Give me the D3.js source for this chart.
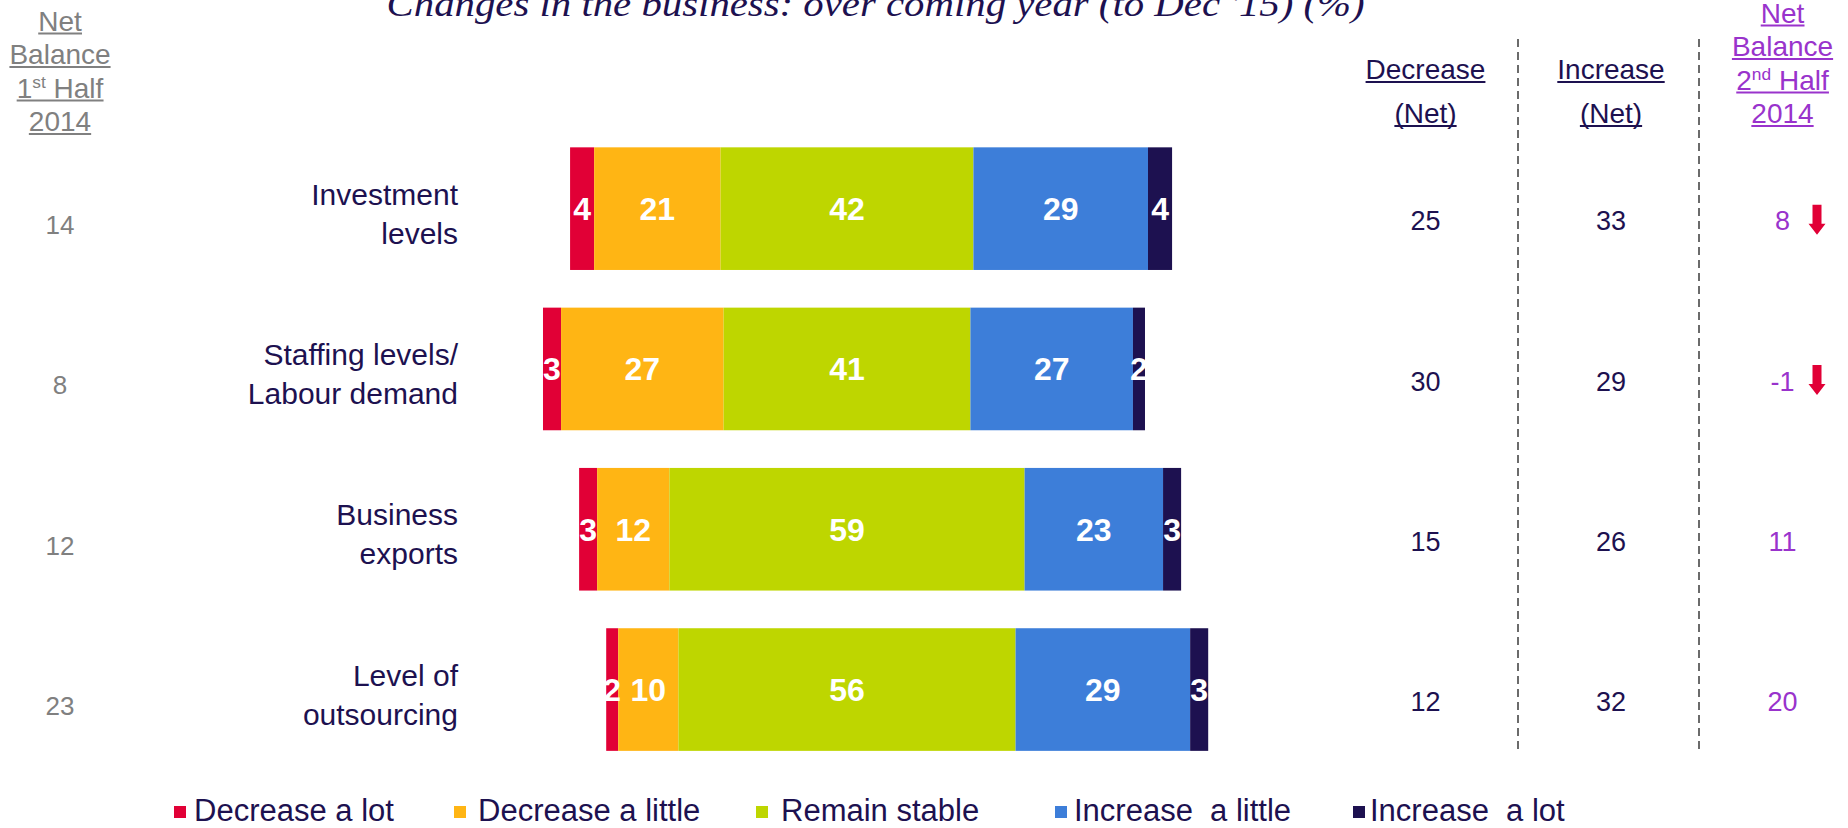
<!DOCTYPE html>
<html>
<head>
<meta charset="utf-8">
<script src="https://cdn.jsdelivr.net/npm/d3@7"></script>
<style>
  html, body { margin: 0; padding: 0; background: #ffffff; }
  svg { display: block; }
  text { font-family: "Liberation Sans", Arial, Helvetica, sans-serif; }
</style>
</head>
<body>
<svg id="chart" width="1848" height="828"></svg>
<script>
// ---- Data ---------------------------------------------------------------
const categoryLines = [
  ["Investment", "levels"],
  ["Staffing levels/", "Labour demand"],
  ["Business", "exports"],
  ["Level of", "outsourcing"]
];
const seriesNames = ["Decrease a lot", "Decrease a little", "Remain stable", "Increase  a little", "Increase  a lot"];
const decreaseLot    = [4, 3, 3, 2];
const decreaseLittle = [21, 27, 12, 10];
const remainStable   = [42, 41, 59, 56];
const increaseLittle = [29, 27, 23, 29];
const increaseLot    = [4, 2, 3, 3];
const netBalanceH1   = [14, 8, 12, 23];
const trendArrows    = ["down", "down", "", ""];

const titleText = "Changes in the business: over coming year (to Dec '15) (%)";
const headerH1 = [["Net"], ["Balance"], ["1", "st", " Half"], ["2014"]];
const headerH2 = [["Net"], ["Balance"], ["2", "nd", " Half"], ["2014"]];
const headerDecrease = ["Decrease", "(Net)"];
const headerIncrease = ["Increase", "(Net)"];

// ---- Derived columns ----------------------------------------------------
const series = [decreaseLot, decreaseLittle, remainStable, increaseLittle, increaseLot];
const netDecrease = decreaseLot.map((d, i) => d + decreaseLittle[i]);
const netIncrease = increaseLot.map((d, i) => d + increaseLittle[i]);
const netBalanceH2 = netIncrease.map((d, i) => d - netDecrease[i]);

// ---- Styling ------------------------------------------------------------
const NAVY = "#1D1150", GREY = "#808080", PURPLE = "#9933CC", ARROW = "#E10036";
const colors = ["#E10036", "#FFB514", "#BED600", "#3D7ED9", "#1D1150"];

const svg = d3.select("#chart");

// ---- Scales -------------------------------------------------------------
const y = d3.scaleBand()
  .domain(d3.range(categoryLines.length))
  .range([128.5, 769.7])
  .paddingInner(0.235)
  .paddingOuter(0.1175);

// Diverging scale: 0 sits in the middle of the "Remain stable" segment
const x = d3.scaleLinear().domain([-60, 60]).range([485.8, 1208.2]);

const colX = { h1: 60, dec: 1425.5, inc: 1611, h2: 1782.5 };

// ---- Helpers ------------------------------------------------------------
function underline(sel, color) {
  const bb = sel.node().getBBox();
  const baseY = +sel.attr("y");
  svg.append("line")
    .attr("x1", bb.x).attr("x2", bb.x + bb.width)
    .attr("y1", baseY + 3).attr("y2", baseY + 3)
    .attr("stroke", color).attr("stroke-width", 1.8);
}

function headerLine(parts, cx, baseY, color, size) {
  const t = svg.append("text")
    .attr("x", cx).attr("y", baseY)
    .attr("text-anchor", "middle")
    .attr("font-size", size)
    .attr("fill", color);
  if (parts.length === 1) {
    t.text(parts[0]);
  } else {
    t.append("tspan").text(parts[0]);
    t.append("tspan").attr("font-size", size * 0.62).attr("dy", -10).text(parts[1]);
    t.append("tspan").attr("dy", 10).style("white-space", "pre").text(parts[2]);
  }
  underline(t, color);
}

// ---- Title --------------------------------------------------------------
svg.append("text")
  .attr("x", 386.6).attr("y", 16)
  .attr("font-style", "italic")
  .attr("font-size", 35)
  .attr("fill", NAVY)
  .attr("textLength", 978)
  .attr("lengthAdjust", "spacingAndGlyphs")
  .style("font-family", "'Liberation Serif', Georgia, serif")
  .text(titleText);

// ---- Column headers -----------------------------------------------------
headerH1.forEach((p, i) => headerLine(p, colX.h1, 30.5 + i * 33.5, GREY, 28));
headerH2.forEach((p, i) => headerLine(p, colX.h2, 22.5 + i * 33.5, PURPLE, 28));
headerDecrease.forEach((p, i) => headerLine([p], colX.dec, 79 + i * 44, NAVY, 28));
headerIncrease.forEach((p, i) => headerLine([p], colX.inc, 79 + i * 44, NAVY, 28));

// ---- Dashed separators --------------------------------------------------
[1518, 1699].forEach(sx => {
  svg.append("line")
    .attr("x1", sx).attr("x2", sx)
    .attr("y1", 39).attr("y2", 752)
    .attr("stroke", "#6b6b6b").attr("stroke-width", 2)
    .attr("stroke-dasharray", "8,5");
});

// ---- Bars ---------------------------------------------------------------
const rows = categoryLines.map((_, i) => {
  const vals = series.map(s => s[i]);
  let start = -(vals[0] + vals[1] + vals[2] / 2);
  return vals.map((v, k) => {
    const seg = { row: i, k, v, x0: start, x1: start + v };
    start += v;
    return seg;
  });
});

const rowG = svg.selectAll("g.row").data(rows).join("g").attr("class", "row");

rowG.selectAll("rect")
  .data(d => d)
  .join("rect")
  .attr("x", d => x(d.x0))
  .attr("width", d => x(d.x1) - x(d.x0))
  .attr("y", d => y(d.row))
  .attr("height", y.bandwidth())
  .attr("fill", d => colors[d.k]);

rowG.selectAll("text.val")
  .data(d => d)
  .join("text")
  .attr("class", "val")
  .attr("x", d => (x(d.x0) + x(d.x1)) / 2)
  .attr("y", d => y(d.row) + y.bandwidth() / 2 + 11.5)
  .attr("text-anchor", "middle")
  .attr("font-size", 32)
  .attr("font-weight", "bold")
  .attr("fill", "#ffffff")
  .text(d => d.v);

// ---- Category labels ----------------------------------------------------
categoryLines.forEach((lines, i) => {
  const yc = y(i) + y.bandwidth() / 2;
  const t = svg.append("text")
    .attr("text-anchor", "end")
    .attr("font-size", 30)
    .attr("fill", NAVY);
  lines.forEach((ln, j) => {
    t.append("tspan").attr("x", 458).attr("y", yc - 4 + j * 39).text(ln);
  });
});

// ---- Side columns -------------------------------------------------------
categoryLines.forEach((_, i) => {
  const yc = y(i) + y.bandwidth() / 2;
  svg.append("text")
    .attr("x", colX.h1).attr("y", yc + 16 + 9.3)
    .attr("text-anchor", "middle").attr("font-size", 26).attr("fill", GREY)
    .text(netBalanceH1[i]);

  const ry = yc + 12 + 9.7;
  svg.append("text")
    .attr("x", colX.dec).attr("y", ry)
    .attr("text-anchor", "middle").attr("font-size", 27).attr("fill", NAVY)
    .text(netDecrease[i]);
  svg.append("text")
    .attr("x", colX.inc).attr("y", ry)
    .attr("text-anchor", "middle").attr("font-size", 27).attr("fill", NAVY)
    .text(netIncrease[i]);
  svg.append("text")
    .attr("x", colX.h2).attr("y", ry)
    .attr("text-anchor", "middle").attr("font-size", 27).attr("fill", PURPLE)
    .text(netBalanceH2[i]);

  if (trendArrows[i] === "down") {
    const cx = 1817, cy = yc + 11;
    const p = d3.path();
    p.moveTo(cx - 4.5, cy - 15);
    p.lineTo(cx + 4.5, cy - 15);
    p.lineTo(cx + 4.5, cy + 4);
    p.lineTo(cx + 8.5, cy + 4);
    p.lineTo(cx, cy + 15);
    p.lineTo(cx - 8.5, cy + 4);
    p.lineTo(cx - 4.5, cy + 4);
    p.closePath();
    svg.append("path").attr("d", p.toString()).attr("fill", ARROW);
  }
});

// ---- Legend -------------------------------------------------------------
const legendSquareX = [174, 454, 756, 1055, 1353];
const legendTextX   = [194, 478, 781, 1074, 1370];
const legend = svg.append("g").attr("class", "legend");
seriesNames.forEach((name, k) => {
  legend.append("rect")
    .attr("x", legendSquareX[k]).attr("y", 806)
    .attr("width", 12).attr("height", 12)
    .attr("fill", colors[k]);
  legend.append("text")
    .attr("x", legendTextX[k]).attr("y", 821)
    .attr("font-size", 31)
    .attr("fill", NAVY)
    .style("white-space", "pre")
    .text(name);
});
</script>
</body>
</html>
